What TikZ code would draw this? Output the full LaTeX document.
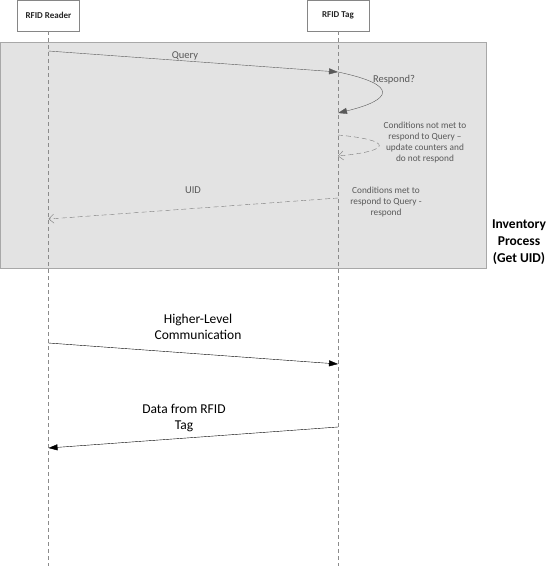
\documentclass[tikz,border=0pt]{standalone}
\usepackage{fontspec}
\setmainfont{Carlito}
\usetikzlibrary{arrows.meta}
\definecolor{boxgray}{HTML}{E3E3E3}
\definecolor{edgegray}{HTML}{A8A8A8}
\definecolor{txtgray}{HTML}{595959}
\tikzset{
  head/.style={draw=edgegray!80!black, fill=white, minimum width=62pt, minimum height=31pt, font=\fontsize{9}{10}\selectfont\bfseries, text=black!85, inner sep=0pt},
  life/.style={draw=txtgray!70, dashed, dash pattern=on 4pt off 3pt},
  msg/.style={draw=txtgray, -{Triangle[length=9pt,width=6pt]}},
  blackmsg/.style={draw=black, -{Triangle[length=9pt,width=6pt]}},
  retmsg/.style={draw=txtgray!80, dashed, dash pattern=on 5pt off 3pt, -{Straight Barb[length=5pt,width=9pt]}},
  lbl/.style={text=txtgray, font=\fontsize{10.5}{12}\selectfont, inner sep=0pt},
  small/.style={text=txtgray, font=\fontsize{9.3}{11}\selectfont, align=center, inner sep=0pt},
  big/.style={text=black, font=\fontsize{13.5}{16}\selectfont, align=center, inner sep=0pt}
}
\begin{document}
\begin{tikzpicture}[x=1pt,y=-1pt]
\fill[white] (0,0) rectangle (548,566);
\useasboundingbox (0,0) rectangle (548,566);
% inventory region
\draw[edgegray, fill=boxgray] (0.5,42) rectangle (486,268);
% headers
\node[head] (reader) at (48.5,15.5) {RFID Reader};
\node[head] (tag) at (338,15.5) {RFID Tag};
\coordinate (readerEnd) at (48.5,566);
\coordinate (tagEnd) at (338,566);
\draw[life] (reader.south) -- (readerEnd);
\draw[life] (tag.south) -- (tagEnd);
% coordinates on lifelines
\coordinate (q1) at (48.5,51);
\coordinate (q2) at (338,72);
\coordinate (r2) at (338,113);
\coordinate (n1) at (338,135);
\coordinate (n2) at (338,156);
\coordinate (u1) at (338,198);
\coordinate (u2) at (48.5,219);
\coordinate (h1) at (48.5,343);
\coordinate (h2) at (338,364);
\coordinate (d1) at (338,427);
\coordinate (d2) at (48.5,448);
% query
\draw[msg] (q1) -- (q2);
\node[lbl] (query) at (185,56) {Query};
% respond?
\draw[msg] (q2) .. controls (400,85) and (392,100) .. (r2);
\node[lbl] (respond) at (394,80) {Respond?};
% not met loop
\draw[retmsg] (n1) .. controls (393,140) and (393,151) .. (n2);
\node[small] (notmet) at (425,142.5) {Conditions not met to\\respond to Query –\\update counters and\\do not respond};
% UID
\draw[retmsg] (u1) -- (u2);
\node[lbl] (uid) at (193,190) {UID};
\node[small] (met) at (386,202) {Conditions met to\\respond to Query -\\respond};
\node[big, font=\fontsize{13.5}{17}\selectfont\bfseries] (inv) at (519,242) {Inventory\\Process\\(Get UID)};
% higher level
\draw[blackmsg] (h1) -- (h2);
\node[big] (hl) at (198,327) {Higher-Level\\Communication};
\draw[blackmsg] (d1) -- (d2);
\node[big] (data) at (184,418) {Data from RFID\\Tag};
\end{tikzpicture}
\end{document}
